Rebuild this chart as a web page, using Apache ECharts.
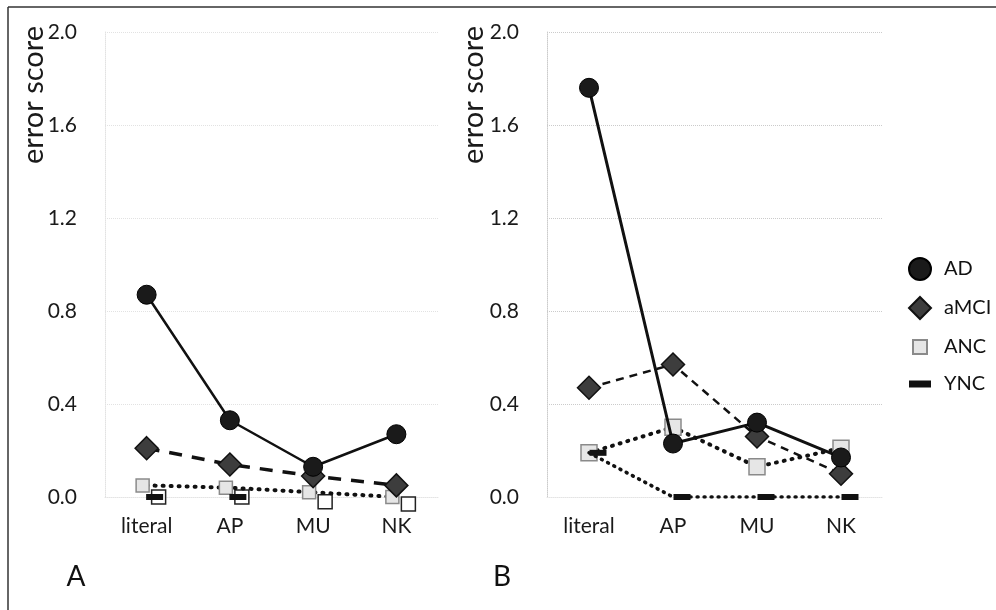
<!DOCTYPE html>
<html>
<head>
<meta charset="utf-8">
<script src="https://cdn.jsdelivr.net/npm/echarts@6/dist/echarts.min.js"></script>
<style>
  html, body { margin: 0; padding: 0; background: #fff; }
  #chart { width: 996px; height: 610px; }
</style>
</head>
<body>
<div id="chart"></div>
<script>
// categories and values
const categories = ['literal', 'AP', 'MU', 'NK'];
const groups = ['AD', 'aMCI', 'ANC', 'YNC'];

// panel A
const adA = [0.87, 0.33, 0.13, 0.27];
const amciA = [0.21, 0.14, 0.09, 0.05];
const ancA = [0.05, 0.04, 0.02, 0.0];
const yncA = [0.0, 0.0, null, null];
const openA = [0.0, 0.0, -0.02, -0.03];

// panel B
const adB = [1.76, 0.23, 0.32, 0.17];
const amciB = [0.47, 0.57, 0.26, 0.10];
const ancB = [0.19, 0.30, 0.13, 0.21];
const yncB = [0.19, 0.0, 0.0, 0.0];

const FONT = 'Lato, "Open Sans", sans-serif';

const chart = echarts.init(document.getElementById('chart'), null, { renderer: 'canvas' });

function yAxisFor(idx, gridColor) {
  return {
    type: 'value',
    gridIndex: idx,
    min: 0,
    max: 2,
    interval: 0.4,
    axisLabel: {
      formatter: v => v.toFixed(1),
      fontSize: 21,
      fontFamily: FONT,
      color: '#1a1a1a',
      margin: 28
    },
    axisTick: { show: false },
    axisLine: { show: true, lineStyle: { color: gridColor, type: 'dotted' } },
    splitLine: { lineStyle: { color: gridColor, type: 'dotted', width: 1 } }
  };
}

function xAxisFor(idx) {
  return {
    type: 'category',
    gridIndex: idx,
    data: categories,
    boundaryGap: true,
    axisTick: { show: false },
    axisLine: { show: true, lineStyle: { color: '#e4e4e4', type: 'dotted' } },
    axisLabel: { fontSize: 21, fontFamily: FONT, color: '#1a1a1a', margin: 19 }
  };
}

// styles shared by both panels
function panelSeries(idx, ad, amci, anc, ync, opts) {
  return [
    {
      name: 'AD', type: 'line', xAxisIndex: idx, yAxisIndex: idx, data: ad,
      symbol: 'circle', symbolSize: 19, z: 5,
      itemStyle: { color: '#1a1a1a', borderColor: '#000', borderWidth: 1 },
      lineStyle: { color: '#111', width: opts.adWidth }
    },
    {
      name: 'aMCI', type: 'line', xAxisIndex: idx, yAxisIndex: idx, data: amci,
      symbol: 'diamond', symbolSize: 23, z: 4,
      itemStyle: { color: '#3d3d3d', borderColor: '#111', borderWidth: 1.5 },
      lineStyle: { color: '#111', width: opts.dashWidth, type: opts.dash }
    },
    {
      name: 'ANC', type: 'line', xAxisIndex: idx, yAxisIndex: idx, data: anc,
      symbol: 'rect', symbolSize: opts.ancSize, symbolOffset: opts.ancOffset, z: 3,
      itemStyle: { color: '#e6e6e6', borderColor: '#8a8a8a', borderWidth: 1.5 },
      lineStyle: { color: '#111', width: 4, type: [1, 7], cap: 'round' }
    },
    {
      name: 'YNC', type: 'line', xAxisIndex: idx, yAxisIndex: idx, data: ync,
      symbol: 'rect', symbolSize: [17, 6], symbolOffset: opts.yncOffset, z: 6,
      itemStyle: { color: '#111' },
      lineStyle: { color: '#111', width: 3.5, type: [1, 6], cap: 'round', opacity: opts.yncLine }
    }
  ];
}

const series = []
  .concat(panelSeries(0, adA, amciA, ancA, yncA, {
    adWidth: 2.5, dashWidth: 3.5, dash: [13, 10], ancSize: 13, ancOffset: [-4, 0], yncOffset: [8, 0], yncLine: 0
  }))
  .concat(panelSeries(1, adB, amciB, ancB, yncB, {
    adWidth: 3, dashWidth: 2.5, dash: [8, 6], ancSize: 16, ancOffset: [0, 0], yncOffset: [9, 0], yncLine: 1
  }));

// open squares sitting just under the zero line in panel A
series.push({
  name: 'open', type: 'line', xAxisIndex: 0, yAxisIndex: 0, data: openA,
  symbol: 'rect', symbolSize: 14, symbolOffset: [12, 0], z: 2, clip: false,
  itemStyle: { color: '#fff', borderColor: '#222', borderWidth: 1.5 },
  lineStyle: { opacity: 0 }
});

const option = {
  backgroundColor: '#fff',
  animation: false,
  grid: [
    { left: 105, right: 558, top: 32, bottom: 113 },
    { left: 547, right: 113, top: 32, bottom: 113 }
  ],
  xAxis: [xAxisFor(0), xAxisFor(1)],
  yAxis: [yAxisFor(0, '#e2e2e2'), yAxisFor(1, '#cbcbcb')],
  legend: {
    orient: 'vertical',
    left: 903,
    top: 252,
    itemWidth: 22,
    itemHeight: 22,
    itemGap: 15,
    textStyle: { fontSize: 20, fontFamily: FONT, color: '#111', padding: [0, 0, 0, 8] },
    data: [
      { name: 'AD', icon: 'circle' },
      { name: 'aMCI', icon: 'diamond' },
      { name: 'ANC', icon: 'path://M0,0M22,22M4,4h14v14h-14z' },
      { name: 'YNC', icon: 'path://M0,0h22v7h-22z' }
    ]
  },
  graphic: [
    { type: 'line', shape: { x1: 8, y1: 7, x2: 996, y2: 7 }, style: { stroke: '#333', lineWidth: 1.5 } },
    { type: 'line', shape: { x1: 8, y1: 7, x2: 8, y2: 610 }, style: { stroke: '#333', lineWidth: 1.5 } },
    {
      type: 'text', x: 34, y: 95, rotation: Math.PI / 2,
      style: { text: 'error score', font: '29px ' + FONT, fill: '#1a1a1a', align: 'center', verticalAlign: 'middle', textAlign: 'center', textVerticalAlign: 'middle' }
    },
    {
      type: 'text', x: 474, y: 95, rotation: Math.PI / 2,
      style: { text: 'error score', font: '29px ' + FONT, fill: '#1a1a1a', align: 'center', verticalAlign: 'middle', textAlign: 'center', textVerticalAlign: 'middle' }
    },
    {
      type: 'text', x: 76, y: 577,
      style: { text: 'A', font: '28px ' + FONT, fill: '#111', align: 'center', verticalAlign: 'middle', textAlign: 'center', textVerticalAlign: 'middle' }
    },
    {
      type: 'text', x: 502, y: 577,
      style: { text: 'B', font: '28px ' + FONT, fill: '#111', align: 'center', verticalAlign: 'middle', textAlign: 'center', textVerticalAlign: 'middle' }
    }
  ],
  series: series
};

chart.setOption(option);
</script>
</body>
</html>
